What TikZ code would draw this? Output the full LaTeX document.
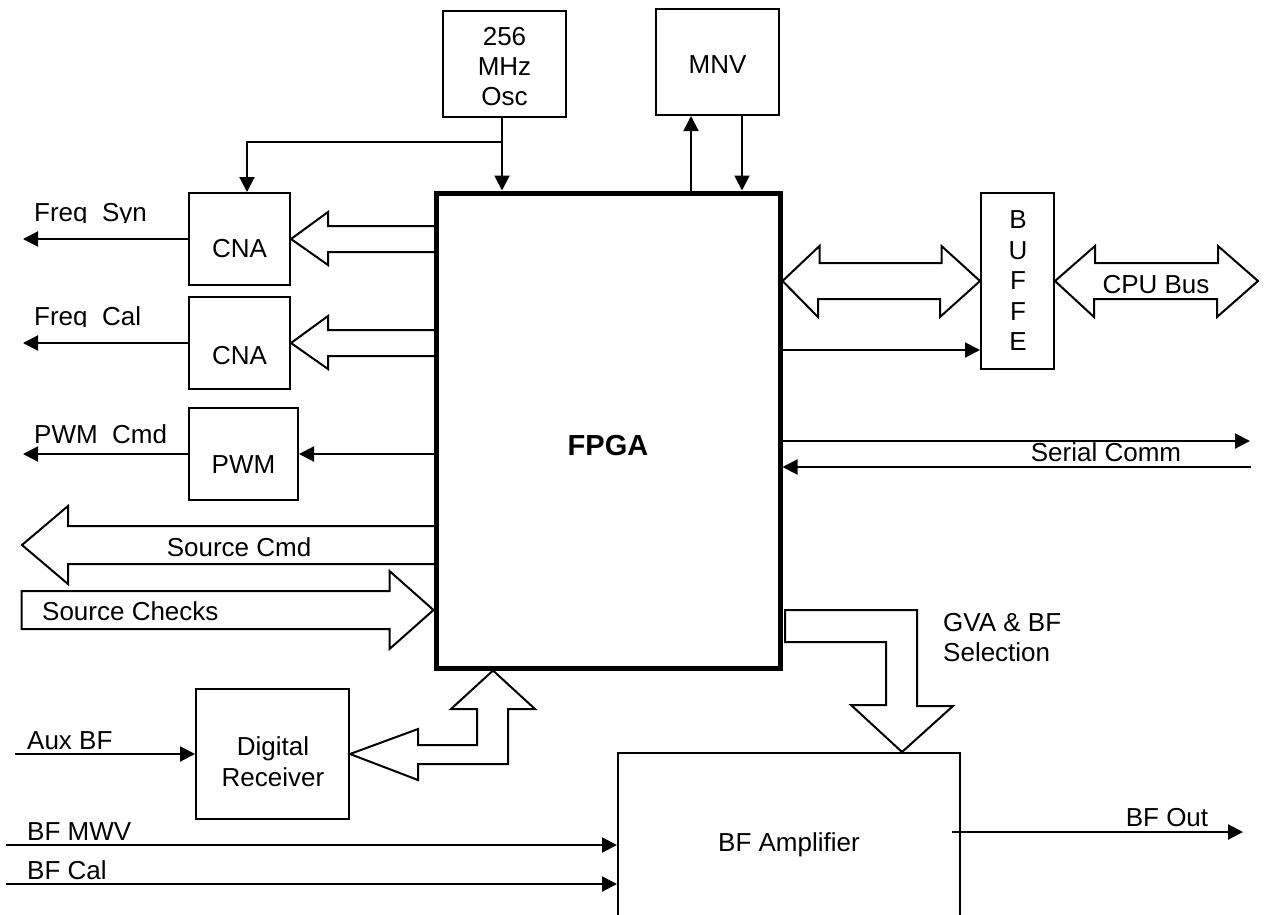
\documentclass[tikz,border=0pt]{standalone}
\usepackage{fontspec}
\setmainfont{Liberation Sans}
\usetikzlibrary{arrows.meta,calc}
\tikzset{
  box/.style={draw, line width=2pt, inner sep=0pt},
  txt/.style={font=\fontsize{26}{30}\selectfont, inner sep=0pt},
  arr/.style={line width=2pt, -{Triangle[length=15pt,width=15pt]}},
  fat/.style={line width=2pt, line join=miter},
}
\begin{document}
\begin{tikzpicture}[x=1pt,y=-1pt]
\useasboundingbox (0,0) rectangle (1268,914);

% blocks
\node[box, minimum width=344, minimum height=475, line width=5pt] (fpga) at (608,430.5) {};
\node[txt, font=\fontsize{29}{32}\selectfont\bfseries] (fpgat) at (608,446) {FPGA};

\node[box, minimum width=123, minimum height=106] (osc) at (504.5,64) {};
\node[txt, align=center] (osct) at (504.5,67) {256\\MHz\\Osc};

\node[box, minimum width=123, minimum height=106] (mnv) at (717.5,62) {};
\node[txt] (mnvt) at (717.5,65) {MNV};

\node[box, minimum width=101, minimum height=92] (cnaA) at (239.5,239) {};
\node[txt] (cnaAt) at (239.5,249) {CNA};
\node[box, minimum width=101, minimum height=92] (cnaB) at (239.5,343) {};
\node[txt] (cnaBt) at (239.5,356) {CNA};
\node[box, minimum width=109, minimum height=92] (pwm) at (243.5,454) {};
\node[txt] (pwmt) at (243.5,465) {PWM};

\node[box, minimum width=73, minimum height=176] (buf) at (1017.5,281) {};
\node[txt, align=center, font=\fontsize{26}{30.5}\selectfont] (buft) at (1018,281) {B\\U\\F\\F\\E};

\node[box, minimum width=153, minimum height=130] (dr) at (272.5,754) {};
\node[txt, align=center, font=\fontsize{26}{31}\selectfont] (drt) at (273,762) {Digital\\Receiver};

\node[box, minimum width=342, minimum height=207] (amp) at (789,856.5) {};
\node[txt, anchor=base] (ampt) at (789,851) {BF Amplifier};

% clock
\coordinate (oscd) at ($(osc.south)+(-2.5,0)$);
\draw[arr] (oscd) -- (oscd |- fpga.north);
\coordinate (br) at ($(oscd)+(0,24)$);
\coordinate (brA) at ($(cnaA.north)+(7.5,0)$);
\draw[arr] (br) -- (br -| brA) -- (brA);

% MNV
\coordinate (m1) at ($(mnv.south)+(-26.5,0)$);
\coordinate (m2) at ($(mnv.south)+(24.5,0)$);
\draw[arr] (m1 |- fpga.north) -- (m1);
\draw[arr] (m2) -- (m2 |- fpga.north);

% CNA buses
\draw[fat] ($(cnaA.east)+(144,-13)$) -- ++(-107,0) -- ++(0,-14) -- (cnaA.east) -- ++(37,26) -- ++(0,-13) -- ++(107,0);
\draw[fat] ($(cnaB.east)+(144,-13)$) -- ++(-107,0) -- ++(0,-14) -- (cnaB.east) -- ++(37,26) -- ++(0,-13) -- ++(107,0);

% outputs left
\coordinate (fsout) at (23,239);
\coordinate (fcout) at (23,343);
\coordinate (pcout) at (23,454);
\draw[arr] (cnaA.west) -- (fsout);
\draw[arr] (cnaB.west) -- (fcout);
\draw[arr] (pwm.west) -- (pcout);
\draw[arr] (fpga.west |- pwm.east) -- (pwm.east);

\begin{scope}
\clip (0,180) rectangle (185,222);
\node[txt, anchor=base west] (lfs) at (34,221) {Freq\ \ Syn};
\end{scope}
\begin{scope}
\clip (0,290) rectangle (185,326);
\node[txt, anchor=base west] (lfc) at (34,325) {Freq\ \ Cal};
\end{scope}
\node[txt, anchor=base west] (lpc) at (34,443) {PWM\ \ Cmd};

% source buses
\coordinate (scmd) at (22,545);
\draw[fat] ($(scmd)+(412,-19)$) -- ++(-366,0) -- ++(0,-20) -- (scmd) -- ++(46,39) -- ++(0,-20) -- ++(366,0);
\node[txt] (lsc) at (239,547) {Source Cmd};
\coordinate (schk) at (22,610);
\draw[fat] (fpga.west |- schk) -- ++(-44,-39) -- ++(0,20) -- ++(-368,0) -- ++(0,38) -- ++(368,0) -- ++(0,20) -- cycle;
\node[txt, anchor=west] (lsk) at (42,611) {Source Checks};

% buffer buses
\coordinate (dl) at (fpga.east |- buf.west);
\draw[fat] (dl) -- ++(37,-35) -- ++(0,17) -- ++(122,0) -- ++(0,-17) -- (buf.west) -- ++(-40,36) -- ++(0,-18) -- ++(-122,0) -- ++(0,18) -- cycle;
\coordinate (cpu) at (1258,281);
\draw[fat] (buf.east) -- ++(40,-35) -- ++(0,17) -- ++(123,0) -- ++(0,-17) -- (cpu) -- ++(-41,36) -- ++(0,-18) -- ++(-123,0) -- ++(0,18) -- cycle;
\node[txt] (lcpu) at (1156,285) {CPU Bus};
\coordinate (bufin) at ($(buf.south west)+(0,-20)$);
\draw[arr] (fpga.east |- bufin) -- (bufin);

% serial
\coordinate (so) at (1250,441);
\coordinate (si) at (1251,467);
\draw[arr] (fpga.east |- so) -- (so);
\draw[arr] (si) -- (fpga.east |- si);
\node[txt] (lser) at (1106,452) {Serial Comm};

% digital receiver
\coordinate (drtip) at ($(fpga.south)+(-115,0)$);
\draw[fat] (dr.east) -- ++(68,-25) -- ++(0,16) -- ++(59,0) -- ++(0,-36) -- ++(-26,0) -- (drtip) -- ++(42,38.5) -- ++(-27,0) -- ++(0,55) -- ++(-90,0) -- ++(0,16) -- cycle;
\coordinate (aux) at (15,754);
\draw[arr] (aux) -- (dr.west);
\node[txt, anchor=west] (laux) at (27,741) {Aux BF};

% BF inputs
\coordinate (mwv) at (6,845);
\coordinate (cal) at (6,884);
\draw[arr] (mwv) -- (amp.west |- mwv);
\draw[arr] (cal) -- (amp.west |- cal);
\node[txt, anchor=west] (lmwv) at (27,832) {BF MWV};
\node[txt, anchor=west] (lcal) at (27,870) {BF Cal};

% GVA bus
\coordinate (g0) at (785,610);
\coordinate (gt) at ($(amp.north)+(113,0)$);
\draw[fat] (g0) -- ++(132,0) -- ++(0,96) -- ++(36,0) -- (gt) -- ++(-51,-47) -- ++(35,0) -- ++(0,-63) -- ++(-101,0) -- cycle;
\node[txt, anchor=west, align=left] (lgva) at (943,637.5) {GVA \& BF\\Selection};

% BF out
\coordinate (bfo) at (1243,832);
\draw[arr] ($(amp.east |- bfo)+(-9,0)$) -- (bfo);
\node[txt] (lbfo) at (1167,818) {BF Out};
\end{tikzpicture}
\end{document}
